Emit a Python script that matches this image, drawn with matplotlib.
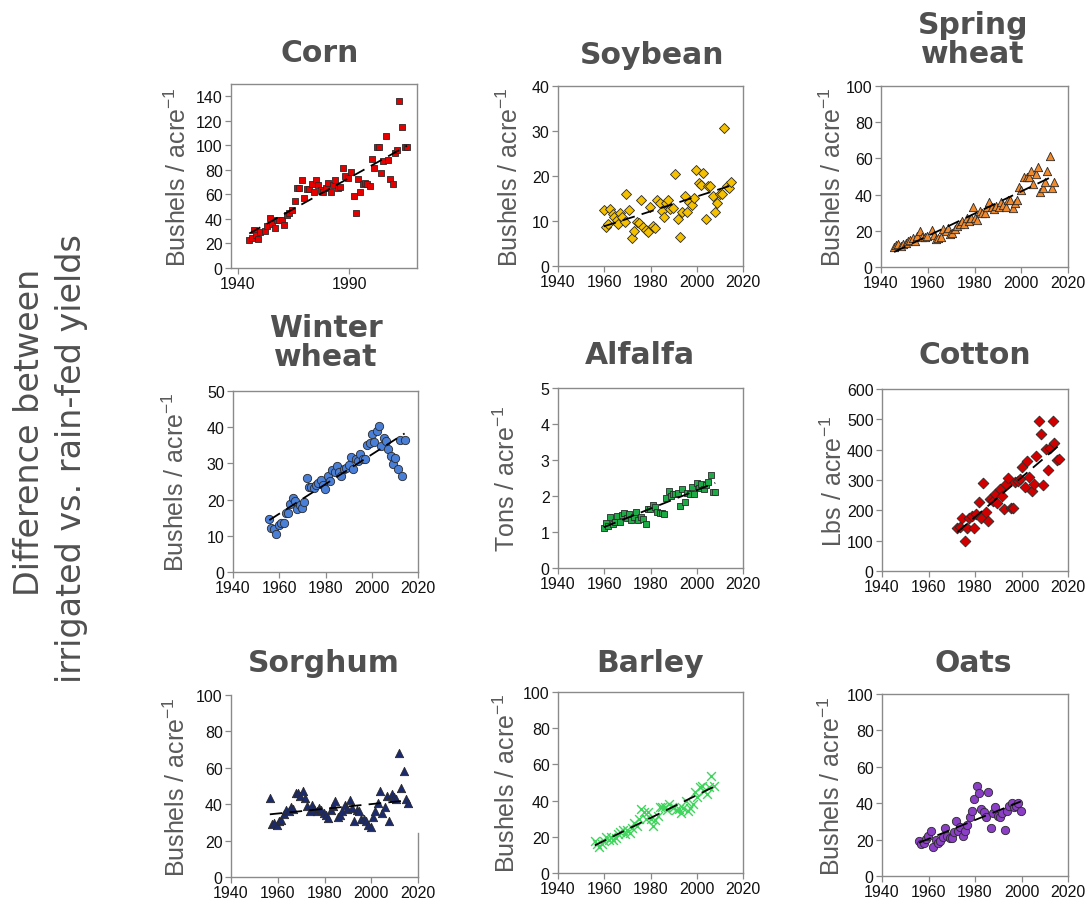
import numpy as np
import matplotlib
matplotlib.use("Agg")
import matplotlib.pyplot as plt

plt.rcParams['font.family'] = ['Liberation Sans', 'DejaVu Sans']
plt.rcParams['mathtext.default'] = 'regular'

# ---------------- data ----------------
corn_years = [1945.2,1946.4,1947.5,1948.2,1949.3,1950.0,1952.3,1953.3,1954.5,1955.6,1956.6,1957.5,1958.7,1959.8,1960.8,
              1962.0,1963.2,1964.4,1965.6,1966.5,1967.7,1968.9,1969.9,1971.0,1972.2,1973.2,1974.3,1975.2,1976.2,1977.3,1978.5,
              1979.5,1980.6,1981.8,1982.7,1983.7,1984.9,1986.0,1987.2,1988.4,1989.7,1990.9,1992.0,1993.1,1994.2,1995.1,1996.1,
              1997.2,1998.2,1999.3,2000.3,2001.4,2002.4,2003.5,2004.2,2005.4,2006.5,2007.5,2008.6,2009.6,2010.7,2011.7,2012.6,
              2013.7,2015.1,2016.0]
corn_vals = [22.9,24.6,30.8,27.3,23.5,29.5,30,34,41,35.5,33,39,39,39,35,
             43,44.5,47,54.6,65,65,71.8,56.8,64.4,64.4,68.2,61.7,71.5,67.7,63.6,62.2,
             65,69,62.2,67.7,71.8,65,66.3,81.3,75.3,73,78.6,59,44.8,72.6,61.7,68.2,
             69,68.2,67.1,88.7,81.9,98.5,98.3,77.2,87.6,107.8,88.2,72.6,68.2,93.6,96.3,136,
             114.6,98.3,98.3]

soy_years = [1959.8,1960.7,1961.7,1962.7,1963.6,1964.4,1965.3,1966.0,1966.7,1967.7,
             1968.8,1969.6,1970.8,1971.8,1972.8,1974.0,1975.0,1976.0,1976.8,1977.9,
             1978.9,1979.9,1980.9,1981.9,1982.9,1983.9,1984.9,1986.0,1986.8,1987.7,
             1988.6,1989.6,1990.7,1991.7,1992.7,1993.8,1994.8,1995.8,1996.8,1997.8,
             1998.8,1999.8,2000.8,2001.8,2002.9,2003.9,2004.9,2005.9,2006.9,2007.9,
             2008.9,2009.9,2010.9,2011.9,2012.9,2013.9,2014.9]
soy_vals = [12.4,8.7,9.4,12.7,11.6,10.9,10.3,9.3,11.8,11.0,
            9.8,15.9,12.4,6.2,7.8,9.8,9.6,14.7,8.7,8.1,
            7.6,13.1,8.8,8.4,14.7,13.9,12.2,10.9,14.0,14.7,
            12.7,12.9,20.4,10.5,6.4,12.0,15.5,12.0,14.2,13.5,
            15.2,21.4,18.5,18.1,20.7,10.4,17.8,17.8,15.5,12.0,
            14.0,15.9,15.9,30.7,17.8,17.3,18.7]

spring_years = [1945.6,1946.4,1947.4,1948.4,1949.5,1950.5,1951.5,1952.4,1953.5,1954.5,
                1955.5,1956.7,1957.7,1958.7,1959.8,1961.7,1962.6,1963.5,1964.5,1965.5,
                1966.6,1967.6,1968.6,1969.5,1970.5,1971.6,1972.6,1973.6,1974.5,1975.5,
                1976.6,1977.6,1978.6,1979.5,1980.3,1981.2,1982.3,1983.3,1984.3,1985.2,
                1986.3,1987.3,1988.3,1989.4,1990.4,1991.4,1992.3,1993.3,1994.3,1995.1,
                1996.3,1997.3,1998.3,1999.1,2000.1,2001.1,2002.3,2003.2,2004.2,2005.2,
                2006.2,2007.2,2008.2,2009.2,2010.2,2011.2,2012.2,2013.2,2014.2]
spring_vals = [11.1,12.2,12.6,11.6,12.9,13.5,14.4,15.0,15.9,14.4,
               17.2,20.0,16.3,16.6,17.2,20.3,17.7,15.3,15.9,16.6,
               20.9,20.0,21.4,18.1,18.7,20.9,22.7,24.0,25.5,24.0,
               27.0,25.5,27.0,33.3,27.0,25.9,31.1,30.1,29.6,32.9,
               36.0,32.9,32.0,33.8,32.9,35.7,34.4,33.3,37.0,37.0,
               32.5,35.1,37.0,44.0,42.5,49.5,49.9,49.9,53.2,45.8,
               51.4,55.5,41.2,43.6,47.1,53.2,61.6,43.6,46.8]

winter_years = [1955.7,1956.6,1957.7,1958.7,1959.7,1960.9,1961.9,1962.9,1963.9,1964.8,
                1965.8,1966.8,1967.8,1968.8,1969.8,1970.8,1972.0,1972.9,1973.9,1974.9,
                1975.9,1976.9,1977.9,1978.9,1979.9,1980.9,1981.9,1982.9,1983.9,1984.9,
                1985.9,1986.9,1988.0,1989.0,1990.0,1991.0,1992.0,1993.0,1994.0,1995.0,
                1996.0,1997.1,1998.1,1999.1,2000.1,2001.1,2002.1,2003.1,2004.1,2005.1,
                2006.1,2007.1,2008.2,2009.2,2010.2,2011.2,2012.2,2013.2,2014.2]
winter_vals = [14.7,12.2,12.0,10.4,12.9,13.4,13.6,16.2,16.2,18.7,
               20.5,19.6,17.3,18.4,17.8,19.2,26.1,23.6,23.6,23.3,
               23.9,24.7,25.3,23.9,22.8,26.5,25.1,28.2,27.6,29.3,
               27.6,26.5,28.4,28.8,29.5,31.9,28.4,31.1,30.7,32.5,
               31.3,31.1,35.0,35.7,38.0,35.9,38.9,40.3,34.8,37.1,
               36.2,34.1,32.0,29.7,31.6,28.4,36.4,26.5,36.4]

alfalfa_years = [1959.8,1960.7,1961.7,1962.7,1963.6,1964.6,1965.6,1966.6,1967.6,1968.7,
                 1969.7,1970.7,1971.7,1972.7,1973.7,1974.7,1975.7,1976.9,1977.9,1978.9,
                 1979.9,1980.9,1981.9,1982.9,1984.0,1985.0,1985.9,1986.7,1987.8,1988.8,
                 1989.8,1990.8,1991.8,1992.8,1993.8,1994.8,1995.9,1996.9,1997.9,1998.9,
                 1999.9,2000.9,2001.9,2003.0,2004.0,2005.0,2006.0,2007.0,2008.0]
alfalfa_vals = [1.12,1.25,1.18,1.41,1.21,1.27,1.44,1.27,1.48,1.52,
                1.38,1.49,1.32,1.41,1.55,1.32,1.41,1.37,1.21,1.64,
                1.64,1.75,1.69,1.55,1.52,1.52,1.50,1.95,2.15,2.01,
                2.06,2.06,2.08,1.72,2.20,1.83,2.08,2.06,2.26,2.06,
                2.36,2.21,2.33,2.20,2.31,2.40,2.58,2.12,2.12]

cotton_years = [1972.4,1973.6,1974.6,1975.6,1976.6,1977.6,1978.6,1979.6,1980.6,1981.6,
                1982.6,1983.6,1984.6,1985.6,1986.6,1987.6,1988.6,1989.6,1990.6,1991.6,
                1992.4,1993.4,1994.4,1995.4,1996.4,1997.4,1998.4,1999.4,2000.4,2001.4,
                2002.4,2003.4,2004.4,2005.4,2006.4,2007.4,2008.4,2009.4,2010.4,2011.4,
                2012.4,2013.4,2014.1,2015.1,2016.1]
cotton_vals = [142,146,175,100,142,175,182,142,188,226,
               174,290,193,166,237,232,254,224,270,248,
               204,287,307,207,207,295,298,303,344,276,
               362,311,263,287,380,493,452,285,402,333,
               405,493,421,366,369]

sorghum_years = [1956.6,1957.6,1958.6,1959.6,1960.6,1961.6,1962.6,1963.6,1964.6,1965.6,
                 1966.6,1967.6,1968.7,1969.7,1970.7,1971.7,1972.7,1973.7,1974.7,1975.7,
                 1976.7,1977.7,1978.7,1979.7,1980.7,1981.7,1982.7,1983.7,1984.7,1985.7,
                 1986.7,1987.7,1988.7,1989.7,1990.7,1991.7,1992.7,1993.7,1994.7,1995.7,
                 1996.7,1997.7,1998.7,1999.7,2000.7,2001.7,2002.7,2003.7,2004.7,2005.7,
                 2006.7,2007.8,2008.8,2009.8,2010.8,2011.8,2012.8,2013.8,2014.8,2015.6]
sorghum_vals = [43.3,29.0,29.4,28.6,30.8,31.2,34.5,36.7,36.3,38.2,
                37.2,46.4,46.4,44.6,47.0,43.3,39.1,36.3,39.6,37.2,
                36.3,37.8,36.7,35.4,34.1,32.3,36.7,39.1,41.5,33.0,
                34.1,36.3,39.6,37.2,42.2,37.8,30.8,36.7,36.3,31.7,
                31.7,30.5,28.6,27.5,33.0,36.3,40.9,47.0,35.4,38.2,
                44.6,30.8,45.5,44.0,42.8,68.4,48.8,58.0,42.8,40.9]

barley_years = [1955.9,1956.9,1957.9,1958.9,1959.9,1960.9,1961.9,1962.9,1963.9,1964.9,
                1965.9,1966.9,1967.9,1969.0,1970.0,1971.0,1972.0,1973.0,1974.0,1975.0,
                1976.0,1977.0,1978.0,1979.0,1980.1,1981.1,1982.1,1983.1,1984.1,1985.1,
                1986.1,1987.1,1988.1,1989.1,1990.1,1991.2,1992.2,1993.2,1994.2,1995.2,
                1996.2,1997.2,1998.2,1999.2,2000.2,2001.2,2002.2,2003.3,2004.3,2005.3,
                2006.3,2007.3]
barley_vals = [17.6,15.8,14.3,16.1,17.6,19.8,18.3,19.8,18.0,19.4,
               21.7,22.6,23.5,21.7,23.5,22.0,25.0,27.5,25.7,29.9,
               35.4,33.6,29.9,33.6,29.9,26.2,29.4,31.7,36.3,36.7,
               36.3,34.9,38.2,36.7,36.3,34.9,35.4,33.0,36.0,39.6,
               34.5,36.0,38.2,44.6,41.8,47.3,48.3,45.1,43.7,47.7,
               53.8,48.3]

oats_years = [1955.9,1956.9,1957.9,1958.9,1959.9,1960.9,1962.1,1963.1,1964.1,1965.1,
              1966.1,1967.1,1968.1,1969.1,1970.1,1971.1,1971.7,1972.7,1973.7,1974.7,
              1975.7,1976.7,1977.7,1978.7,1979.7,1980.7,1981.7,1982.7,1983.7,1984.7,
              1985.7,1986.7,1987.7,1988.7,1989.7,1990.7,1991.7,1992.7,1993.7,1994.7,
              1995.7,1996.7,1997.7,1998.7,1999.7]
oats_vals = [19.4,17.6,17.9,20.3,22.2,24.9,15.8,19.8,17.9,19.4,
             21.2,26.4,22.2,20.9,20.9,24.0,30.0,24.9,26.7,22.2,
             24.9,28.2,32.2,35.9,42.3,49.6,45.4,36.8,35.0,32.6,
             46.0,26.4,34.4,38.1,33.2,32.2,34.4,25.3,35.5,38.6,
             39.9,37.7,38.6,39.9,35.5]

titles = ["Corn", "Soybean", "Spring\nwheat", "Winter\nwheat", "Alfalfa", "Cotton", "Sorghum", "Barley", "Oats"]
ylabels = ["Bushels / acre$^{-1}$"] * 3 + ["Bushels / acre$^{-1}$", "Tons / acre$^{-1}$", "Lbs / acre$^{-1}$"] + ["Bushels / acre$^{-1}$"] * 3
yticks_list = [[0, 20, 40, 60, 80, 100, 120, 140], [0, 10, 20, 30, 40], [0, 20, 40, 60, 80, 100],
               [0, 10, 20, 30, 40, 50], [0, 1, 2, 3, 4, 5], [0, 100, 200, 300, 400, 500, 600],
               [0, 20, 40, 60, 80, 100], [0, 20, 40, 60, 80, 100], [0, 20, 40, 60, 80, 100]]
xticks_std = [1940, 1960, 1980, 2000, 2020]
xticks_corn = [1940, 1990]

series = [(corn_years, corn_vals), (soy_years, soy_vals), (spring_years, spring_vals),
          (winter_years, winter_vals), (alfalfa_years, alfalfa_vals), (cotton_years, cotton_vals),
          (sorghum_years, sorghum_vals), (barley_years, barley_vals), (oats_years, oats_vals)]

# ---------------- style / layout ----------------
W, H = 1086, 903
fig = plt.figure(figsize=(W / 100, H / 100), dpi=100)
fig.patch.set_facecolor('white')

# axes boxes in pixels: left, top, right, bottom
boxes = [(231, 85, 417, 269), (558, 87, 743, 267), (881, 87, 1068, 268),
         (233, 392, 418, 573), (558, 389, 743, 569), (882, 390, 1068, 572),
         (231, 696, 418, 878), (558, 693, 743, 874), (882, 695, 1068, 877)]
ylims = [(0, 150), (0, 40), (0, 100), (0, 50), (0, 5), (0, 600), (0, 100), (0, 100), (0, 100)]
xlims = [(1937, 2020.5)] + [(1940, 2020)] * 8
markers = ['s', 'D', '^', 'o', 's', 'D', '^', 'x', 'o']
sizes = [22, 26, 36, 36, 24, 30, 36, 40, 36]
colors = ['#e50000', '#f5c000', '#f28a2c', '#4a7fd8', '#1faa48', '#d00000', '#1b2a6e', '#3fd45c', '#8a3fc4']
title_pos = [(320, 54), (652, 55), (973, 40), (326, 343), (640, 356), (975, 356), (324, 663), (650, 663), (973, 663)]
ylabel_x = [178, 510, 833, 176, 507, 834, 177, 507, 832]

spine_col = '#8a8a8a'
text_gray = '#505050'

for i, (yrs, vals) in enumerate(series):
    l, t, r, b = boxes[i]
    ax = fig.add_axes([l / W, 1 - b / H, (r - l) / W, (b - t) / H])
    yrs = np.array(yrs)
    vals = np.array(vals)
    if markers[i] == 'x':
        ax.scatter(yrs, vals, marker='x', s=sizes[i], c=colors[i], linewidths=1.0, zorder=3)
    else:
        ax.scatter(yrs, vals, marker=markers[i], s=sizes[i], c=colors[i],
                   edgecolors='#2a2a2a', linewidths=0.6, zorder=3)
    coef = np.polyfit(yrs, vals, 1)
    xx = np.array([yrs.min(), yrs.max()])
    ax.plot(xx, np.polyval(coef, xx), color='black', lw=1.3, dashes=(7, 4), zorder=4)

    ax.set_xlim(*xlims[i])
    ax.set_ylim(*ylims[i])
    ax.set_yticks(yticks_list[i])
    ax.set_xticks(xticks_corn if i == 0 else xticks_std)
    ax.tick_params(direction='out', length=4, width=0.9, color=spine_col,
                   labelsize=11.5, labelcolor='#111111', pad=2)
    for s in ax.spines.values():
        s.set_color(spine_col)
        s.set_linewidth(1.0)
    if i == 6:
        ax.spines['top'].set_visible(False)
        ax.spines['right'].set_bounds(0, 24)

    # title
    tx, ty = title_pos[i]
    fig.text(tx / W, 1 - ty / H, titles[i], ha='center', va='center', fontsize=21.5,
             fontweight='bold', family=['DejaVu Sans'], color=text_gray, linespacing=1.0)
    # y label
    fig.text(ylabel_x[i] / W, 1 - ((t + b) / 2) / H, ylabels[i], rotation=90, ha='center', va='center',
             fontsize=18, color='#5a5a5a')

# overall label
fig.text(30 / W, 1 - 432 / H, "Difference between", rotation=90, ha='center', va='center',
         fontsize=24, family=['DejaVu Sans'], color=text_gray)
fig.text(72 / W, 1 - 459 / H, "irrigated vs. rain-fed yields", rotation=90, ha='center', va='center',
         fontsize=24, family=['DejaVu Sans'], color=text_gray)

fig.savefig('out.png', dpi=100, facecolor='white')
